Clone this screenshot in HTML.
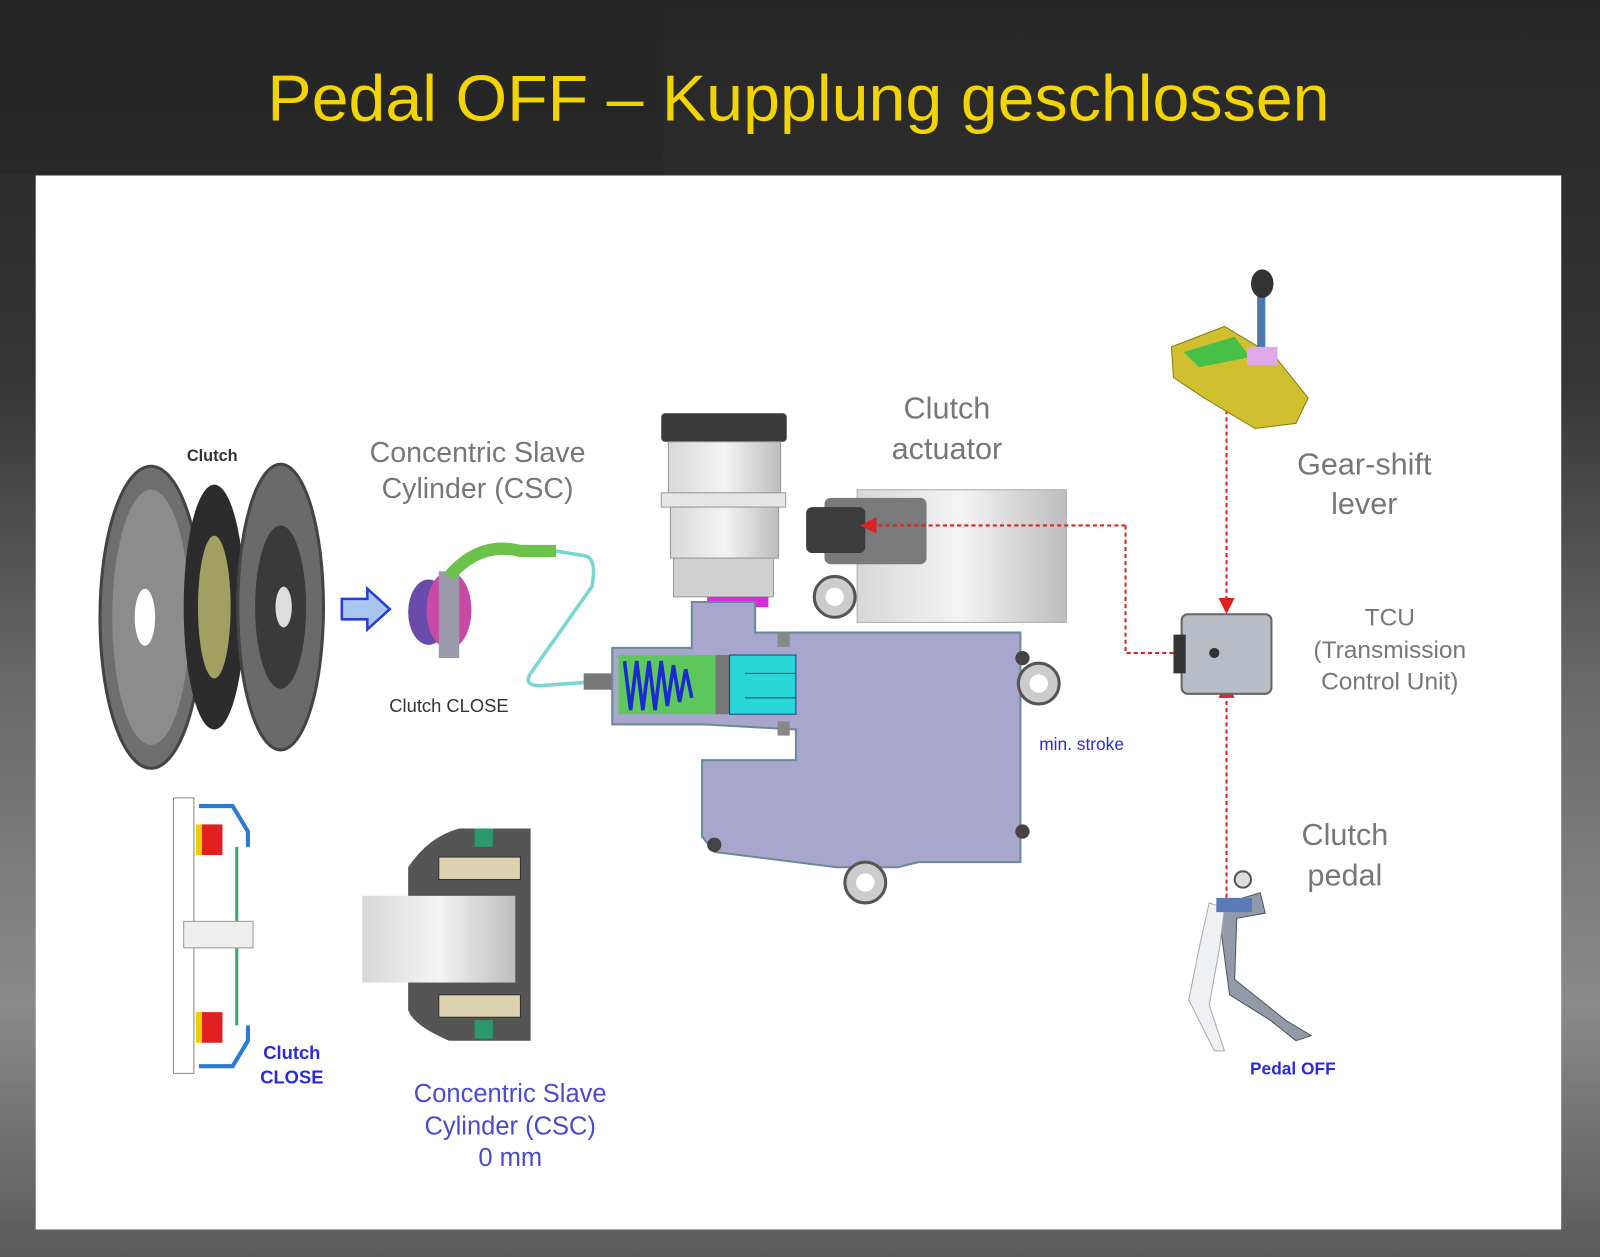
<!DOCTYPE html>
<html><head><meta charset="utf-8"><style>
html,body{margin:0;padding:0;width:1600px;height:1257px;overflow:hidden;background:#2b2b2b}
svg{display:block}
text{font-family:"Liberation Sans","DejaVu Sans",sans-serif}
</style></head><body>
<svg width="1600" height="1257" viewBox="0 0 1568 1232" preserveAspectRatio="none" xmlns="http://www.w3.org/2000/svg">
<defs>
<linearGradient id="bg" x1="0" y1="0" x2="0" y2="1">
<stop offset="0" stop-color="#262626"/><stop offset="0.3" stop-color="#353535"/><stop offset="0.55" stop-color="#6a6a6a"/><stop offset="0.8" stop-color="#8a8a8a"/><stop offset="1" stop-color="#5a5a5a"/>
</linearGradient>
<linearGradient id="metal" x1="0" y1="0" x2="1" y2="0">
<stop offset="0" stop-color="#d8d8d8"/><stop offset="0.5" stop-color="#f4f4f4"/><stop offset="1" stop-color="#bdbdbd"/>
</linearGradient>
<marker id="ah" markerWidth="8" markerHeight="8" refX="6" refY="4" orient="auto"><path d="M0,0 L8,4 L0,8 z" fill="#e02020"/></marker>
</defs>
<rect width="1568" height="1232" fill="url(#bg)"/>
<rect x="0" y="0" width="650" height="170" fill="#242424" opacity="0.6"/>
<text x="262" y="118" font-size="64" fill="#f2d400" textLength="1041" lengthAdjust="spacingAndGlyphs">Pedal OFF – Kupplung geschlossen</text>
<rect x="35" y="172" width="1495" height="1033" fill="#ffffff"/>

<!-- Clutch assembly -->
<text x="208" y="452" font-size="16" fill="#333" text-anchor="middle" font-weight="bold">Clutch</text>
<ellipse cx="148" cy="605" rx="50" ry="148" fill="#6e6e6e" stroke="#444" stroke-width="3"/>
<ellipse cx="148" cy="605" rx="38" ry="125" fill="#8c8c8c"/>
<ellipse cx="142" cy="605" rx="10" ry="28" fill="#fff"/>
<ellipse cx="210" cy="595" rx="30" ry="120" fill="#2c2c2c"/>
<ellipse cx="210" cy="595" rx="16" ry="70" fill="#a0a060"/>
<ellipse cx="275" cy="595" rx="42" ry="140" fill="#6a6a6a" stroke="#444" stroke-width="3"/>
<ellipse cx="275" cy="595" rx="25" ry="80" fill="#3a3a3a"/>
<ellipse cx="278" cy="595" rx="8" ry="20" fill="#ddd"/>
<path d="M335,587 L360,587 L360,577 L382,597 L360,617 L360,607 L335,607 Z" fill="#a9c6f0" stroke="#2b3cd6" stroke-width="2.5"/>

<!-- CSC top -->
<text x="468" y="453" font-size="28" fill="#777" text-anchor="middle">Concentric Slave</text>
<text x="468" y="488" font-size="28" fill="#777" text-anchor="middle">Cylinder (CSC)</text>
<ellipse cx="420" cy="600" rx="20" ry="32" fill="#6a4aaa"/>
<ellipse cx="440" cy="598" rx="22" ry="38" fill="#c74aa5"/>
<rect x="430" y="560" width="20" height="85" fill="#9a9aaa"/>
<path d="M440,565 Q470,530 510,540 L545,540" stroke="#6cc24a" stroke-width="12" fill="none"/>
<path d="M545,540 L575,545 Q585,550 580,575 L520,660 Q512,672 530,672 L585,668" stroke="#7ad6d0" stroke-width="3.5" fill="none"/>
<rect x="572" y="660" width="28" height="16" fill="#777"/>
<text x="440" y="698" font-size="18" fill="#333" text-anchor="middle">Clutch CLOSE</text>

<!-- Reservoir -->
<rect x="648" y="405" width="123" height="28" rx="4" fill="#3a3a3a"/>
<rect x="655" y="433" width="110" height="50" fill="url(#metal)" stroke="#999"/>
<rect x="648" y="483" width="122" height="14" fill="#e6e6e6" stroke="#999"/>
<rect x="657" y="497" width="106" height="50" fill="url(#metal)" stroke="#999"/>
<rect x="660" y="547" width="98" height="38" fill="#d0d0d0" stroke="#999"/>
<rect x="693" y="585" width="60" height="10" fill="#d82ad8"/>

<!-- Motor housing -->
<rect x="840" y="480" width="205" height="130" fill="url(#metal)" stroke="#aaa"/>
<rect x="808" y="488" width="100" height="65" rx="6" fill="#7a7a7a"/>
<rect x="790" y="497" width="58" height="45" rx="6" fill="#3c3c3c"/>
<circle cx="818" cy="585" r="20" fill="#ccc" stroke="#555" stroke-width="3"/><circle cx="818" cy="585" r="9" fill="#fff"/>

<!-- Actuator body -->
<path d="M678,590 L740,590 L740,620 L1000,620 L1000,845 L900,845 L880,850 L820,850 L700,835 L688,820 L688,745 L780,745 L780,715 L690,710 L600,710 L600,635 L678,635 Z" fill="#a8a6cc" stroke="#6a8a9a" stroke-width="2"/>
<rect x="606" y="642" width="95" height="58" fill="#5ec85e"/>
<path d="M612,648 l6,48 l6,-48 l6,48 l6,-48 l6,48 l6,-48 l6,44 l6,-40 l6,36 l6,-32 l6,28" stroke="#1a2ad0" stroke-width="3.5" fill="none"/>
<rect x="701" y="642" width="14" height="58" fill="#777"/>
<rect x="715" y="642" width="65" height="58" fill="#28d8d8" stroke="#147" stroke-width="1"/>
<line x1="730" y1="660" x2="780" y2="660" stroke="#147"/><line x1="730" y1="684" x2="780" y2="684" stroke="#147"/>
<circle cx="1018" cy="670" r="20" fill="#ccc" stroke="#555" stroke-width="3"/><circle cx="1018" cy="670" r="9" fill="#fff"/>
<circle cx="848" cy="865" r="20" fill="#ccc" stroke="#555" stroke-width="3"/><circle cx="848" cy="865" r="9" fill="#fff"/>
<circle cx="700" cy="828" r="7" fill="#444"/><circle cx="1002" cy="815" r="7" fill="#444"/><circle cx="1002" cy="645" r="7" fill="#444"/>
<rect x="762" y="620" width="12" height="14" fill="#888"/><rect x="762" y="707" width="12" height="14" fill="#888"/>

<text x="928" y="410" font-size="30" fill="#777" text-anchor="middle">Clutch</text>
<text x="928" y="450" font-size="30" fill="#777" text-anchor="middle">actuator</text>
<text x="1060" y="735" font-size="17" fill="#2b2bd6" text-anchor="middle">min. stroke</text>

<!-- Red dashed connectors -->
<path d="M1103,515 L1103,640 L1150,640" stroke="#e02020" stroke-width="2" stroke-dasharray="4,3" fill="none"/>
<path d="M1103,515 L847,515" stroke="#e02020" stroke-width="2" stroke-dasharray="4,3" fill="none" marker-end="url(#ah)"/>
<path d="M1202,360 L1202,598" stroke="#e02020" stroke-width="2" stroke-dasharray="4,3" fill="none" marker-end="url(#ah)"/>
<path d="M1202,880 L1202,672" stroke="#e02020" stroke-width="2" stroke-dasharray="4,3" fill="none" marker-end="url(#ah)"/>

<!-- Gear shift -->
<path d="M1148,340 L1200,320 L1250,350 L1282,390 L1270,415 L1230,420 L1180,390 L1150,370 Z" fill="#d0c030" stroke="#8a7a10"/>
<path d="M1160,345 L1210,330 L1225,350 L1175,360 Z" fill="#48c048"/>
<rect x="1232" y="280" width="8" height="70" fill="#4a7ab0"/>
<ellipse cx="1237" cy="278" rx="11" ry="14" fill="#333"/>
<rect x="1222" y="340" width="30" height="18" fill="#e0a8e8"/>
<text x="1337" y="465" font-size="30" fill="#777" text-anchor="middle">Gear-shift</text>
<text x="1337" y="504" font-size="30" fill="#777" text-anchor="middle">lever</text>

<!-- TCU -->
<rect x="1158" y="602" width="88" height="78" rx="6" fill="#b8bcc4" stroke="#666" stroke-width="2"/>
<rect x="1150" y="622" width="12" height="38" fill="#333"/>
<circle cx="1190" cy="640" r="5" fill="#333"/>
<text x="1362" y="613" font-size="24" fill="#777" text-anchor="middle">TCU</text>
<text x="1362" y="645" font-size="24" fill="#777" text-anchor="middle">(Transmission</text>
<text x="1362" y="676" font-size="24" fill="#777" text-anchor="middle">Control Unit)</text>

<!-- Clutch pedal -->
<path d="M1185,890 L1235,875 L1240,895 L1212,900 L1210,960 L1260,1000 L1285,1015 L1270,1020 L1245,1000 L1205,975 L1195,900 Z" fill="#909aa8" stroke="#555"/>
<path d="M1185,885 L1175,930 L1165,980 L1190,1030 L1200,1030 L1185,985 L1195,930 L1200,890 Z" fill="#eef0f4" stroke="#aaa"/>
<rect x="1192" y="880" width="35" height="14" fill="#5a7ab8"/>
<circle cx="1218" cy="862" r="8" fill="#ddd" stroke="#555" stroke-width="2"/>
<text x="1318" y="828" font-size="30" fill="#777" text-anchor="middle">Clutch</text>
<text x="1318" y="868" font-size="30" fill="#777" text-anchor="middle">pedal</text>
<text x="1267" y="1053" font-size="17" fill="#2b2bd6" text-anchor="middle" font-weight="bold">Pedal OFF</text>

<!-- Bottom-left section drawing -->
<path d="M170,782 L190,782 L190,1052 L170,1052 Z" fill="#fff" stroke="#888"/>
<path d="M195,790 L228,790 L243,815 L243,830" stroke="#2a7ad6" stroke-width="4" fill="none"/>
<path d="M195,1045 L228,1045 L243,1020 L243,1005" stroke="#2a7ad6" stroke-width="4" fill="none"/>
<rect x="196" y="808" width="22" height="30" fill="#e02020"/><rect x="192" y="808" width="6" height="30" fill="#f0d000"/>
<rect x="196" y="992" width="22" height="30" fill="#e02020"/><rect x="192" y="992" width="6" height="30" fill="#f0d000"/>
<line x1="232" y1="830" x2="232" y2="1005" stroke="#3aaa6a" stroke-width="3"/>
<rect x="180" y="903" width="68" height="26" fill="#eee" stroke="#999"/>
<text x="286" y="1038" font-size="18" fill="#2b2bd6" text-anchor="middle" font-weight="bold">Clutch</text>
<text x="286" y="1062" font-size="18" fill="#2b2bd6" text-anchor="middle" font-weight="bold">CLOSE</text>

<!-- CSC section -->
<path d="M400,850 Q420,820 450,812 L520,812 L520,1020 L440,1020 Q405,1005 400,990 Z" fill="#555"/>
<rect x="355" y="878" width="150" height="85" fill="url(#metal)"/>
<rect x="430" y="840" width="80" height="22" fill="#dcd2b0" stroke="#333"/>
<rect x="430" y="975" width="80" height="22" fill="#dcd2b0" stroke="#333"/>
<rect x="465" y="812" width="18" height="18" fill="#2a9a6a"/><rect x="465" y="1000" width="18" height="18" fill="#2a9a6a"/>
<text x="500" y="1080" font-size="25" fill="#4a4ad0" text-anchor="middle">Concentric Slave</text>
<text x="500" y="1112" font-size="25" fill="#4a4ad0" text-anchor="middle">Cylinder (CSC)</text>
<text x="500" y="1143" font-size="25" fill="#4a4ad0" text-anchor="middle">0 mm</text>
</svg>
</body></html>
